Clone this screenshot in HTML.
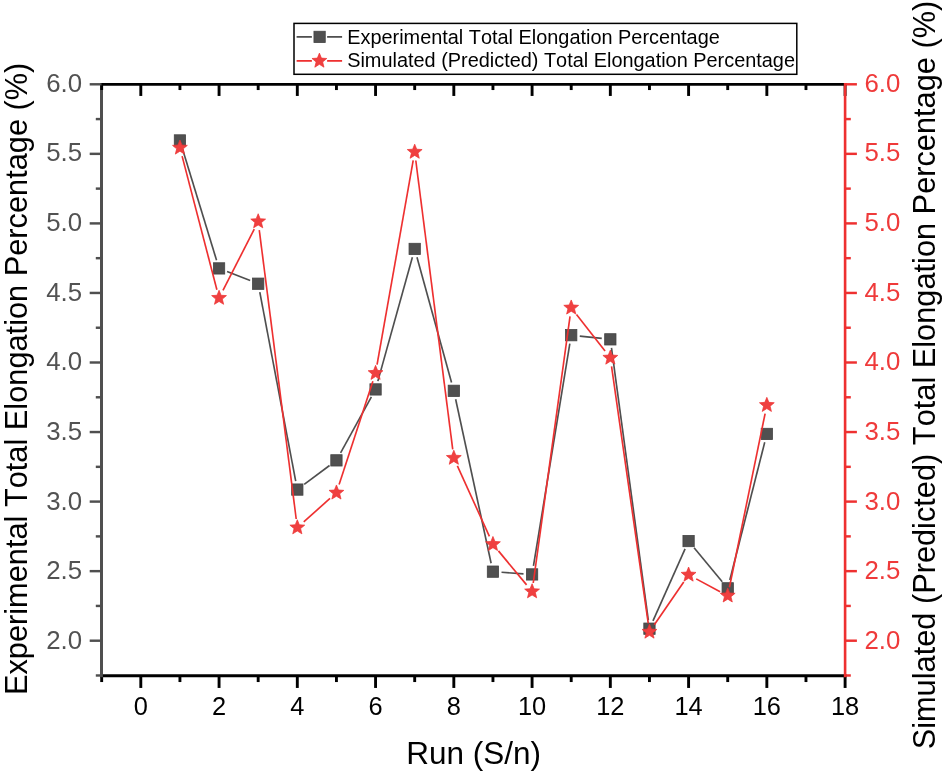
<!DOCTYPE html>
<html lang="en"><head><meta charset="utf-8"><title>Total Elongation Percentage</title>
<style>html,body{margin:0;padding:0;background:#fff;}body{width:944px;height:774px;overflow:hidden;}svg{display:block;}text{font-kerning:none;}</style>
</head><body>
<svg width="944" height="774" viewBox="0 0 944 774" font-family="'Liberation Sans', sans-serif">
<rect width="944" height="774" fill="#fff"/>
<g id="series-exp">
<line x1="182.44" y1="148.66" x2="216.54" y2="260.19" stroke="#4f4f4f" stroke-width="1.65" />
<line x1="227.06" y1="271.54" x2="250.17" y2="280.58" stroke="#4f4f4f" stroke-width="1.65" />
<line x1="259.79" y1="292.16" x2="295.71" y2="481.13" stroke="#4f4f4f" stroke-width="1.65" />
<line x1="304.20" y1="484.44" x2="329.55" y2="465.51" stroke="#4f4f4f" stroke-width="1.65" />
<line x1="340.59" y1="452.84" x2="371.41" y2="396.96" stroke="#4f4f4f" stroke-width="1.65" />
<line x1="377.87" y1="381.14" x2="412.39" y2="257.22" stroke="#4f4f4f" stroke-width="1.65" />
<line x1="416.98" y1="257.23" x2="451.54" y2="382.53" stroke="#4f4f4f" stroke-width="1.65" />
<line x1="455.64" y1="399.23" x2="491.13" y2="563.24" stroke="#4f4f4f" stroke-width="1.65" />
<line x1="501.53" y1="572.26" x2="523.50" y2="573.82" stroke="#4f4f4f" stroke-width="1.65" />
<line x1="533.47" y1="565.94" x2="569.82" y2="343.67" stroke="#4f4f4f" stroke-width="1.65" />
<line x1="579.76" y1="336.09" x2="601.78" y2="338.44" stroke="#4f4f4f" stroke-width="1.65" />
<line x1="611.49" y1="347.88" x2="648.31" y2="620.16" stroke="#4f4f4f" stroke-width="1.65" />
<line x1="652.97" y1="620.83" x2="685.08" y2="548.90" stroke="#4f4f4f" stroke-width="1.65" />
<line x1="694.07" y1="547.67" x2="722.23" y2="581.72" stroke="#4f4f4f" stroke-width="1.65" />
<line x1="729.83" y1="580.01" x2="764.73" y2="442.28" stroke="#4f4f4f" stroke-width="1.65" />
<rect x="174.28" y="134.79" width="11.3" height="11.3" fill="#505050" stroke="#444444" stroke-width="0.8"/>
<rect x="213.41" y="262.76" width="11.3" height="11.3" fill="#505050" stroke="#444444" stroke-width="0.8"/>
<rect x="252.53" y="278.06" width="11.3" height="11.3" fill="#505050" stroke="#444444" stroke-width="0.8"/>
<rect x="291.66" y="483.93" width="11.3" height="11.3" fill="#505050" stroke="#444444" stroke-width="0.8"/>
<rect x="330.79" y="454.72" width="11.3" height="11.3" fill="#505050" stroke="#444444" stroke-width="0.8"/>
<rect x="369.92" y="383.78" width="11.3" height="11.3" fill="#505050" stroke="#444444" stroke-width="0.8"/>
<rect x="409.04" y="243.29" width="11.3" height="11.3" fill="#505050" stroke="#444444" stroke-width="0.8"/>
<rect x="448.17" y="385.17" width="11.3" height="11.3" fill="#505050" stroke="#444444" stroke-width="0.8"/>
<rect x="487.30" y="566.00" width="11.3" height="11.3" fill="#505050" stroke="#444444" stroke-width="0.8"/>
<rect x="526.43" y="568.78" width="11.3" height="11.3" fill="#505050" stroke="#444444" stroke-width="0.8"/>
<rect x="565.56" y="329.53" width="11.3" height="11.3" fill="#505050" stroke="#444444" stroke-width="0.8"/>
<rect x="604.68" y="333.70" width="11.3" height="11.3" fill="#505050" stroke="#444444" stroke-width="0.8"/>
<rect x="643.81" y="623.03" width="11.3" height="11.3" fill="#505050" stroke="#444444" stroke-width="0.8"/>
<rect x="682.94" y="535.40" width="11.3" height="11.3" fill="#505050" stroke="#444444" stroke-width="0.8"/>
<rect x="722.07" y="582.69" width="11.3" height="11.3" fill="#505050" stroke="#444444" stroke-width="0.8"/>
<rect x="761.19" y="428.29" width="11.3" height="11.3" fill="#505050" stroke="#444444" stroke-width="0.8"/>
</g>
<g id="series-sim">
<line x1="182.10" y1="156.12" x2="216.89" y2="289.70" stroke="#ee3030" stroke-width="1.65" />
<line x1="222.97" y1="290.37" x2="254.27" y2="229.17" stroke="#ee3030" stroke-width="1.65" />
<line x1="259.27" y1="230.05" x2="296.22" y2="519.01" stroke="#ee3030" stroke-width="1.65" />
<line x1="303.74" y1="521.82" x2="330.01" y2="498.48" stroke="#ee3030" stroke-width="1.65" />
<line x1="339.11" y1="484.59" x2="372.89" y2="381.31" stroke="#ee3030" stroke-width="1.65" />
<line x1="377.06" y1="364.67" x2="413.20" y2="160.44" stroke="#ee3030" stroke-width="1.65" />
<line x1="415.79" y1="160.50" x2="452.73" y2="449.46" stroke="#ee3030" stroke-width="1.65" />
<line x1="457.38" y1="465.82" x2="489.40" y2="536.40" stroke="#ee3030" stroke-width="1.65" />
<line x1="498.43" y1="550.86" x2="526.60" y2="584.90" stroke="#ee3030" stroke-width="1.65" />
<line x1="533.25" y1="583.00" x2="570.03" y2="316.28" stroke="#ee3030" stroke-width="1.65" />
<line x1="576.50" y1="314.54" x2="605.04" y2="351.06" stroke="#ee3030" stroke-width="1.65" />
<line x1="611.55" y1="366.35" x2="648.25" y2="623.35" stroke="#ee3030" stroke-width="1.65" />
<line x1="654.33" y1="624.77" x2="683.72" y2="581.92" stroke="#ee3030" stroke-width="1.65" />
<line x1="696.18" y1="578.88" x2="720.13" y2="591.65" stroke="#ee3030" stroke-width="1.65" />
<line x1="729.45" y1="587.27" x2="765.11" y2="413.55" stroke="#ee3030" stroke-width="1.65" />
<polygon points="179.93,140.00 181.95,145.02 187.35,145.38 183.19,148.86 184.51,154.11 179.93,151.23 175.34,154.11 176.66,148.86 172.51,145.38 177.91,145.02" fill="#ef4040" stroke="#ee3030" stroke-width="0.7" stroke-linejoin="miter"/>
<polygon points="219.06,290.22 221.07,295.25 226.47,295.61 222.32,299.08 223.64,304.33 219.06,301.46 214.47,304.33 215.79,299.08 211.64,295.61 217.04,295.25" fill="#ef4040" stroke="#ee3030" stroke-width="0.7" stroke-linejoin="miter"/>
<polygon points="258.18,213.72 260.20,218.74 265.60,219.11 261.45,222.58 262.77,227.83 258.18,224.95 253.60,227.83 254.92,222.58 250.77,219.11 256.17,218.74" fill="#ef4040" stroke="#ee3030" stroke-width="0.7" stroke-linejoin="miter"/>
<polygon points="297.31,519.74 299.33,524.76 304.73,525.13 300.58,528.60 301.90,533.85 297.31,530.97 292.73,533.85 294.05,528.60 289.89,525.13 295.29,524.76" fill="#ef4040" stroke="#ee3030" stroke-width="0.7" stroke-linejoin="miter"/>
<polygon points="336.44,484.96 338.46,489.99 343.86,490.35 339.70,493.82 341.02,499.07 336.44,496.20 331.85,499.07 333.17,493.82 329.02,490.35 334.42,489.99" fill="#ef4040" stroke="#ee3030" stroke-width="0.7" stroke-linejoin="miter"/>
<polygon points="375.57,365.34 377.58,370.36 382.98,370.73 378.83,374.20 380.15,379.45 375.57,376.57 370.98,379.45 372.30,374.20 368.15,370.73 373.55,370.36" fill="#ef4040" stroke="#ee3030" stroke-width="0.7" stroke-linejoin="miter"/>
<polygon points="414.69,144.17 416.71,149.19 422.11,149.56 417.96,153.03 419.28,158.28 414.69,155.40 410.11,158.28 411.43,153.03 407.28,149.56 412.68,149.19" fill="#ef4040" stroke="#ee3030" stroke-width="0.7" stroke-linejoin="miter"/>
<polygon points="453.82,450.19 455.84,455.21 461.24,455.58 457.09,459.05 458.41,464.30 453.82,461.42 449.24,464.30 450.56,459.05 446.40,455.58 451.80,455.21" fill="#ef4040" stroke="#ee3030" stroke-width="0.7" stroke-linejoin="miter"/>
<polygon points="492.95,536.43 494.97,541.45 500.37,541.82 496.21,545.29 497.53,550.54 492.95,547.66 488.37,550.54 489.69,545.29 485.53,541.82 490.93,541.45" fill="#ef4040" stroke="#ee3030" stroke-width="0.7" stroke-linejoin="miter"/>
<polygon points="532.08,583.72 534.10,588.75 539.50,589.11 535.34,592.58 536.66,597.83 532.08,594.96 527.49,597.83 528.81,592.58 524.66,589.11 530.06,588.75" fill="#ef4040" stroke="#ee3030" stroke-width="0.7" stroke-linejoin="miter"/>
<polygon points="571.21,299.96 573.22,304.98 578.62,305.35 574.47,308.82 575.79,314.07 571.21,311.19 566.62,314.07 567.94,308.82 563.79,305.35 569.19,304.98" fill="#ef4040" stroke="#ee3030" stroke-width="0.7" stroke-linejoin="miter"/>
<polygon points="610.33,350.04 612.35,355.06 617.75,355.43 613.60,358.90 614.92,364.15 610.33,361.27 605.75,364.15 607.07,358.90 602.92,355.43 608.32,355.06" fill="#ef4040" stroke="#ee3030" stroke-width="0.7" stroke-linejoin="miter"/>
<polygon points="649.46,624.06 651.48,629.09 656.88,629.45 652.73,632.92 654.05,638.17 649.46,635.30 644.88,638.17 646.20,632.92 642.04,629.45 647.44,629.09" fill="#ef4040" stroke="#ee3030" stroke-width="0.7" stroke-linejoin="miter"/>
<polygon points="688.59,567.03 690.61,572.06 696.01,572.42 691.85,575.89 693.17,581.14 688.59,578.26 684.00,581.14 685.32,575.89 681.17,572.42 686.57,572.06" fill="#ef4040" stroke="#ee3030" stroke-width="0.7" stroke-linejoin="miter"/>
<polygon points="727.72,587.90 729.73,592.92 735.13,593.29 730.98,596.76 732.30,602.01 727.72,599.13 723.13,602.01 724.45,596.76 720.30,593.29 725.70,592.92" fill="#ef4040" stroke="#ee3030" stroke-width="0.7" stroke-linejoin="miter"/>
<polygon points="766.84,397.33 768.86,402.35 774.26,402.72 770.11,406.19 771.43,411.44 766.84,408.56 762.26,411.44 763.58,406.19 759.43,402.72 764.83,402.35" fill="#ef4040" stroke="#ee3030" stroke-width="0.7" stroke-linejoin="miter"/>
</g>
<line x1="101.50" y1="82.92" x2="101.50" y2="677.17" stroke="#4f4f4f" stroke-width="2.85" />
<line x1="100.08" y1="84.35" x2="846.52" y2="84.35" stroke="#000" stroke-width="2.85" />
<line x1="100.08" y1="675.75" x2="846.52" y2="675.75" stroke="#000" stroke-width="2.85" />
<line x1="101.67" y1="675.75" x2="101.67" y2="682.05" stroke="#000" stroke-width="2.9" />
<line x1="101.67" y1="84.35" x2="101.67" y2="90.05" stroke="#000" stroke-width="2.9" />
<line x1="140.80" y1="675.75" x2="140.80" y2="687.95" stroke="#000" stroke-width="2.9" />
<line x1="140.80" y1="84.35" x2="140.80" y2="95.95" stroke="#000" stroke-width="2.9" />
<line x1="179.93" y1="675.75" x2="179.93" y2="682.05" stroke="#000" stroke-width="2.9" />
<line x1="179.93" y1="84.35" x2="179.93" y2="90.05" stroke="#000" stroke-width="2.9" />
<line x1="219.06" y1="675.75" x2="219.06" y2="687.95" stroke="#000" stroke-width="2.9" />
<line x1="219.06" y1="84.35" x2="219.06" y2="95.95" stroke="#000" stroke-width="2.9" />
<line x1="258.18" y1="675.75" x2="258.18" y2="682.05" stroke="#000" stroke-width="2.9" />
<line x1="258.18" y1="84.35" x2="258.18" y2="90.05" stroke="#000" stroke-width="2.9" />
<line x1="297.31" y1="675.75" x2="297.31" y2="687.95" stroke="#000" stroke-width="2.9" />
<line x1="297.31" y1="84.35" x2="297.31" y2="95.95" stroke="#000" stroke-width="2.9" />
<line x1="336.44" y1="675.75" x2="336.44" y2="682.05" stroke="#000" stroke-width="2.9" />
<line x1="336.44" y1="84.35" x2="336.44" y2="90.05" stroke="#000" stroke-width="2.9" />
<line x1="375.57" y1="675.75" x2="375.57" y2="687.95" stroke="#000" stroke-width="2.9" />
<line x1="375.57" y1="84.35" x2="375.57" y2="95.95" stroke="#000" stroke-width="2.9" />
<line x1="414.69" y1="675.75" x2="414.69" y2="682.05" stroke="#000" stroke-width="2.9" />
<line x1="414.69" y1="84.35" x2="414.69" y2="90.05" stroke="#000" stroke-width="2.9" />
<line x1="453.82" y1="675.75" x2="453.82" y2="687.95" stroke="#000" stroke-width="2.9" />
<line x1="453.82" y1="84.35" x2="453.82" y2="95.95" stroke="#000" stroke-width="2.9" />
<line x1="492.95" y1="675.75" x2="492.95" y2="682.05" stroke="#000" stroke-width="2.9" />
<line x1="492.95" y1="84.35" x2="492.95" y2="90.05" stroke="#000" stroke-width="2.9" />
<line x1="532.08" y1="675.75" x2="532.08" y2="687.95" stroke="#000" stroke-width="2.9" />
<line x1="532.08" y1="84.35" x2="532.08" y2="95.95" stroke="#000" stroke-width="2.9" />
<line x1="571.21" y1="675.75" x2="571.21" y2="682.05" stroke="#000" stroke-width="2.9" />
<line x1="571.21" y1="84.35" x2="571.21" y2="90.05" stroke="#000" stroke-width="2.9" />
<line x1="610.33" y1="675.75" x2="610.33" y2="687.95" stroke="#000" stroke-width="2.9" />
<line x1="610.33" y1="84.35" x2="610.33" y2="95.95" stroke="#000" stroke-width="2.9" />
<line x1="649.46" y1="675.75" x2="649.46" y2="682.05" stroke="#000" stroke-width="2.9" />
<line x1="649.46" y1="84.35" x2="649.46" y2="90.05" stroke="#000" stroke-width="2.9" />
<line x1="688.59" y1="675.75" x2="688.59" y2="687.95" stroke="#000" stroke-width="2.9" />
<line x1="688.59" y1="84.35" x2="688.59" y2="95.95" stroke="#000" stroke-width="2.9" />
<line x1="727.72" y1="675.75" x2="727.72" y2="682.05" stroke="#000" stroke-width="2.9" />
<line x1="727.72" y1="84.35" x2="727.72" y2="90.05" stroke="#000" stroke-width="2.9" />
<line x1="766.84" y1="675.75" x2="766.84" y2="687.95" stroke="#000" stroke-width="2.9" />
<line x1="766.84" y1="84.35" x2="766.84" y2="95.95" stroke="#000" stroke-width="2.9" />
<line x1="805.97" y1="675.75" x2="805.97" y2="682.05" stroke="#000" stroke-width="2.9" />
<line x1="805.97" y1="84.35" x2="805.97" y2="90.05" stroke="#000" stroke-width="2.9" />
<line x1="845.10" y1="675.75" x2="845.10" y2="687.95" stroke="#000" stroke-width="2.9" />
<line x1="845.10" y1="84.35" x2="845.10" y2="95.95" stroke="#000" stroke-width="2.9" />
<line x1="845.10" y1="82.92" x2="845.10" y2="677.17" stroke="#ee3030" stroke-width="2.6" />
<line x1="101.50" y1="90.05" x2="101.50" y2="677.17" stroke="#4f4f4f" stroke-width="2.85" />
<line x1="95.80" y1="675.48" x2="101.50" y2="675.48" stroke="#4f4f4f" stroke-width="2.45" />
<line x1="845.10" y1="675.48" x2="850.80" y2="675.48" stroke="#ee3030" stroke-width="2.45" />
<line x1="89.70" y1="640.70" x2="101.50" y2="640.70" stroke="#4f4f4f" stroke-width="2.45" />
<line x1="845.10" y1="640.70" x2="856.90" y2="640.70" stroke="#ee3030" stroke-width="2.45" />
<line x1="95.80" y1="605.93" x2="101.50" y2="605.93" stroke="#4f4f4f" stroke-width="2.45" />
<line x1="845.10" y1="605.93" x2="850.80" y2="605.93" stroke="#ee3030" stroke-width="2.45" />
<line x1="89.70" y1="571.15" x2="101.50" y2="571.15" stroke="#4f4f4f" stroke-width="2.45" />
<line x1="845.10" y1="571.15" x2="856.90" y2="571.15" stroke="#ee3030" stroke-width="2.45" />
<line x1="95.80" y1="536.38" x2="101.50" y2="536.38" stroke="#4f4f4f" stroke-width="2.45" />
<line x1="845.10" y1="536.38" x2="850.80" y2="536.38" stroke="#ee3030" stroke-width="2.45" />
<line x1="89.70" y1="501.60" x2="101.50" y2="501.60" stroke="#4f4f4f" stroke-width="2.45" />
<line x1="845.10" y1="501.60" x2="856.90" y2="501.60" stroke="#ee3030" stroke-width="2.45" />
<line x1="95.80" y1="466.83" x2="101.50" y2="466.83" stroke="#4f4f4f" stroke-width="2.45" />
<line x1="845.10" y1="466.83" x2="850.80" y2="466.83" stroke="#ee3030" stroke-width="2.45" />
<line x1="89.70" y1="432.05" x2="101.50" y2="432.05" stroke="#4f4f4f" stroke-width="2.45" />
<line x1="845.10" y1="432.05" x2="856.90" y2="432.05" stroke="#ee3030" stroke-width="2.45" />
<line x1="95.80" y1="397.28" x2="101.50" y2="397.28" stroke="#4f4f4f" stroke-width="2.45" />
<line x1="845.10" y1="397.28" x2="850.80" y2="397.28" stroke="#ee3030" stroke-width="2.45" />
<line x1="89.70" y1="362.50" x2="101.50" y2="362.50" stroke="#4f4f4f" stroke-width="2.45" />
<line x1="845.10" y1="362.50" x2="856.90" y2="362.50" stroke="#ee3030" stroke-width="2.45" />
<line x1="95.80" y1="327.73" x2="101.50" y2="327.73" stroke="#4f4f4f" stroke-width="2.45" />
<line x1="845.10" y1="327.73" x2="850.80" y2="327.73" stroke="#ee3030" stroke-width="2.45" />
<line x1="89.70" y1="292.95" x2="101.50" y2="292.95" stroke="#4f4f4f" stroke-width="2.45" />
<line x1="845.10" y1="292.95" x2="856.90" y2="292.95" stroke="#ee3030" stroke-width="2.45" />
<line x1="95.80" y1="258.18" x2="101.50" y2="258.18" stroke="#4f4f4f" stroke-width="2.45" />
<line x1="845.10" y1="258.18" x2="850.80" y2="258.18" stroke="#ee3030" stroke-width="2.45" />
<line x1="89.70" y1="223.40" x2="101.50" y2="223.40" stroke="#4f4f4f" stroke-width="2.45" />
<line x1="845.10" y1="223.40" x2="856.90" y2="223.40" stroke="#ee3030" stroke-width="2.45" />
<line x1="95.80" y1="188.62" x2="101.50" y2="188.62" stroke="#4f4f4f" stroke-width="2.45" />
<line x1="845.10" y1="188.62" x2="850.80" y2="188.62" stroke="#ee3030" stroke-width="2.45" />
<line x1="89.70" y1="153.85" x2="101.50" y2="153.85" stroke="#4f4f4f" stroke-width="2.45" />
<line x1="845.10" y1="153.85" x2="856.90" y2="153.85" stroke="#ee3030" stroke-width="2.45" />
<line x1="95.80" y1="119.08" x2="101.50" y2="119.08" stroke="#4f4f4f" stroke-width="2.45" />
<line x1="845.10" y1="119.08" x2="850.80" y2="119.08" stroke="#ee3030" stroke-width="2.45" />
<line x1="89.70" y1="84.30" x2="101.50" y2="84.30" stroke="#4f4f4f" stroke-width="2.45" />
<line x1="845.10" y1="84.30" x2="856.90" y2="84.30" stroke="#ee3030" stroke-width="2.45" />
<text x="82.0" y="648.99" font-size="25.8" fill="#525252" text-anchor="end">2.0</text>
<text x="864.5" y="648.99" font-size="25.8" fill="#ef3a3a" text-anchor="start">2.0</text>
<text x="82.0" y="579.34" font-size="25.8" fill="#525252" text-anchor="end">2.5</text>
<text x="864.5" y="579.34" font-size="25.8" fill="#ef3a3a" text-anchor="start">2.5</text>
<text x="82.0" y="509.70" font-size="25.8" fill="#525252" text-anchor="end">3.0</text>
<text x="864.5" y="509.70" font-size="25.8" fill="#ef3a3a" text-anchor="start">3.0</text>
<text x="82.0" y="440.05" font-size="25.8" fill="#525252" text-anchor="end">3.5</text>
<text x="864.5" y="440.05" font-size="25.8" fill="#ef3a3a" text-anchor="start">3.5</text>
<text x="82.0" y="370.41" font-size="25.8" fill="#525252" text-anchor="end">4.0</text>
<text x="864.5" y="370.41" font-size="25.8" fill="#ef3a3a" text-anchor="start">4.0</text>
<text x="82.0" y="300.76" font-size="25.8" fill="#525252" text-anchor="end">4.5</text>
<text x="864.5" y="300.76" font-size="25.8" fill="#ef3a3a" text-anchor="start">4.5</text>
<text x="82.0" y="231.12" font-size="25.8" fill="#525252" text-anchor="end">5.0</text>
<text x="864.5" y="231.12" font-size="25.8" fill="#ef3a3a" text-anchor="start">5.0</text>
<text x="82.0" y="161.47" font-size="25.8" fill="#525252" text-anchor="end">5.5</text>
<text x="864.5" y="161.47" font-size="25.8" fill="#ef3a3a" text-anchor="start">5.5</text>
<text x="82.0" y="91.83" font-size="25.8" fill="#525252" text-anchor="end">6.0</text>
<text x="864.5" y="91.83" font-size="25.8" fill="#ef3a3a" text-anchor="start">6.0</text>
<text x="140.80" y="715.0" font-size="25.4" fill="#000" text-anchor="middle">0</text>
<text x="219.06" y="715.0" font-size="25.4" fill="#000" text-anchor="middle">2</text>
<text x="297.31" y="715.0" font-size="25.4" fill="#000" text-anchor="middle">4</text>
<text x="375.57" y="715.0" font-size="25.4" fill="#000" text-anchor="middle">6</text>
<text x="453.82" y="715.0" font-size="25.4" fill="#000" text-anchor="middle">8</text>
<text x="532.08" y="715.0" font-size="25.4" fill="#000" text-anchor="middle">10</text>
<text x="610.33" y="715.0" font-size="25.4" fill="#000" text-anchor="middle">12</text>
<text x="688.59" y="715.0" font-size="25.4" fill="#000" text-anchor="middle">14</text>
<text x="766.84" y="715.0" font-size="25.4" fill="#000" text-anchor="middle">16</text>
<text x="845.10" y="715.0" font-size="25.4" fill="#000" text-anchor="middle">18</text>
<text x="473.7" y="764.2" font-size="31.5" fill="#000" text-anchor="middle">Run (S/n)</text>
<text transform="translate(27,378.85) rotate(-90)" font-size="30.75" fill="#000" text-anchor="middle">Experimental Total Elongation Percentage (%)</text>
<text transform="translate(935.3,375.05) rotate(-90)" font-size="30.75" fill="#000" text-anchor="middle">Simulated (Predicted) Total Elongation Percentage (%)</text>
<rect x="294" y="23.4" width="502.8" height="50.9" fill="#fff" stroke="#000" stroke-width="1.5"/>
<line x1="296.60" y1="36.90" x2="311.90" y2="36.90" stroke="#4f4f4f" stroke-width="1.75" />
<line x1="327.10" y1="36.90" x2="342.10" y2="36.90" stroke="#4f4f4f" stroke-width="1.75" />
<rect x="313.95" y="31.25" width="11.3" height="11.3" fill="#505050" stroke="#444444" stroke-width="0.8"/>
<line x1="296.60" y1="60.90" x2="311.90" y2="60.90" stroke="#ee3030" stroke-width="1.75" />
<line x1="327.10" y1="60.90" x2="342.10" y2="60.90" stroke="#ee3030" stroke-width="1.75" />
<polygon points="319.40,53.10 321.42,58.12 326.82,58.49 322.66,61.96 323.98,67.21 319.40,64.33 314.82,67.21 316.14,61.96 311.98,58.49 317.38,58.12" fill="#ef4040" stroke="#ee3030" stroke-width="0.7" stroke-linejoin="miter"/>
<text x="347.2" y="43.7" font-size="19.9" fill="#000">Experimental Total Elongation Percentage</text>
<text x="347.2" y="67.3" font-size="19.9" fill="#000">Simulated (Predicted) Total Elongation Percentage</text>
</svg>
</body></html>
